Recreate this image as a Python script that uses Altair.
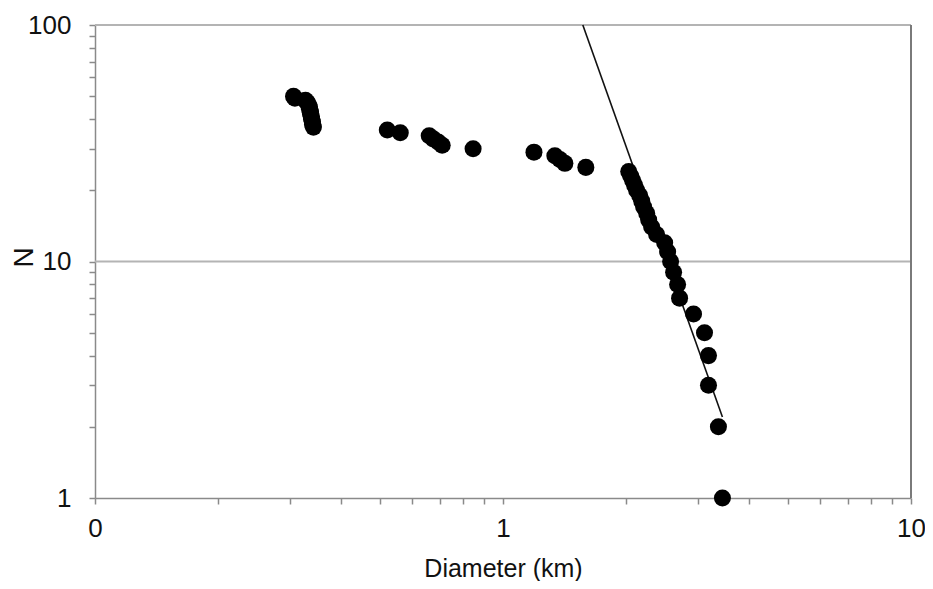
import altair as alt
import pandas as pd

# ---- data ----
diameter = [0.3066, 0.3090, 0.3280, 0.3317, 0.3335, 0.3355, 0.3355, 0.3374, 0.3374,
            0.3393, 0.3393, 0.3412, 0.3412, 0.3431,
            0.5205, 0.5600, 0.6594, 0.6745, 0.6937, 0.7095, 0.8447,
            1.191, 1.340, 1.379, 1.418, 1.596,
            2.033, 2.056, 2.079, 2.102, 2.126, 2.163, 2.188, 2.212, 2.250, 2.275,
            2.314, 2.380, 2.490, 2.532, 2.575, 2.619, 2.679, 2.709,
            2.931, 3.118, 3.189, 3.189, 3.373, 3.450]
count = [50, 49, 48, 47, 46, 45, 44, 43, 42, 41, 40, 39, 38, 37,
         36, 35, 34, 33, 32, 31, 30,
         29, 28, 27, 26, 25,
         24, 23, 22, 21, 20, 19, 18, 17, 16, 15,
         14, 13, 12, 11, 10, 9, 8, 7,
         6, 5, 4, 3, 2, 1]
fit_d = [1.569, 3.45]
fit_n = [100, 2.2]
x_ticks = [0.1, 0.2, 0.3, 0.4, 0.5, 0.6, 0.7, 0.8, 0.9,
           1, 2, 3, 4, 5, 6, 7, 8, 9, 10]
y_ticks = [1, 2, 3, 4, 5, 6, 7, 8, 9,
           10, 20, 30, 40, 50, 60, 70, 80, 90, 100]
grid_n = [10, 100]
border_d = [10]

FONT = "Liberation Sans"
PLOT_W = 816
x_scale = alt.Scale(type="log", domain=[0.1, 10])
y_scale = alt.Scale(type="log", domain=[1, 100])

x_axis = alt.Axis(
    values=x_ticks,
    labelExpr="datum.value == 0.1 ? '0' : datum.value == 1 ? '1' : datum.value == 10 ? '10' : ''",
    labelFlush=False, labelOverlap=False, grid=False,
    domainColor="#8a8a8a", domainWidth=1.5, tickColor="#8a8a8a", tickWidth=1.5, tickSize=6,
    labelFont=FONT, labelFontSize=26, labelColor="#111111", labelPadding=11,
    titleFont=FONT, titleFontSize=25, titleFontWeight="normal", titleColor="#111111",
    titleX=PLOT_W / 2, titleY=78, titleBaseline="alphabetic", titleAlign="center",
)
y_axis = alt.Axis(
    values=y_ticks,
    labelExpr="datum.value == 1 ? '1' : datum.value == 10 ? '10' : datum.value == 100 ? '100' : ''",
    labelOverlap=False, grid=False,
    domainColor="#8a8a8a", domainWidth=1.5, tickColor="#8a8a8a", tickWidth=1.5, tickSize=6,
    labelFont=FONT, labelFontSize=26, labelColor="#111111", labelPadding=18,
    titleFont=FONT, titleFontSize=28, titleFontWeight="normal", titleColor="#111111",
    titleAngle=-90, titleX=-71, titleY=232, titleBaseline="middle", titleAlign="center",
)


def xenc():
    return alt.X("D:Q", scale=x_scale, axis=x_axis, title="Diameter (km)")


def yenc():
    return alt.Y("N:Q", scale=y_scale, axis=y_axis, title="N")


pts = pd.DataFrame({"D": diameter, "N": count})
fit = pd.DataFrame({"D": fit_d, "N": fit_n})
grid = pd.DataFrame({"N": grid_n})
border = pd.DataFrame({"D": border_d})

grid_layer = alt.Chart(grid).mark_rule(color="#b4b4b4", strokeWidth=2).encode(y=yenc())
border_layer = alt.Chart(border).mark_rule(color="#7a7a7a", strokeWidth=2).encode(x=xenc())
line_layer = alt.Chart(fit).mark_line(color="#111111", strokeWidth=1.6).encode(x=xenc(), y=yenc())
point_layer = alt.Chart(pts).mark_circle(size=290, color="#000000", opacity=1).encode(x=xenc(), y=yenc())

chart = alt.layer(grid_layer, border_layer, line_layer, point_layer).properties(
    width=PLOT_W, height=473,
    autosize=alt.AutoSizeParams(type="none"),
    padding={"left": 87, "top": 17, "right": 14, "bottom": 83},
    background="white",
).configure_view(stroke=None)

chart.save("out.html", embed_options={"renderer": "svg", "actions": False})
